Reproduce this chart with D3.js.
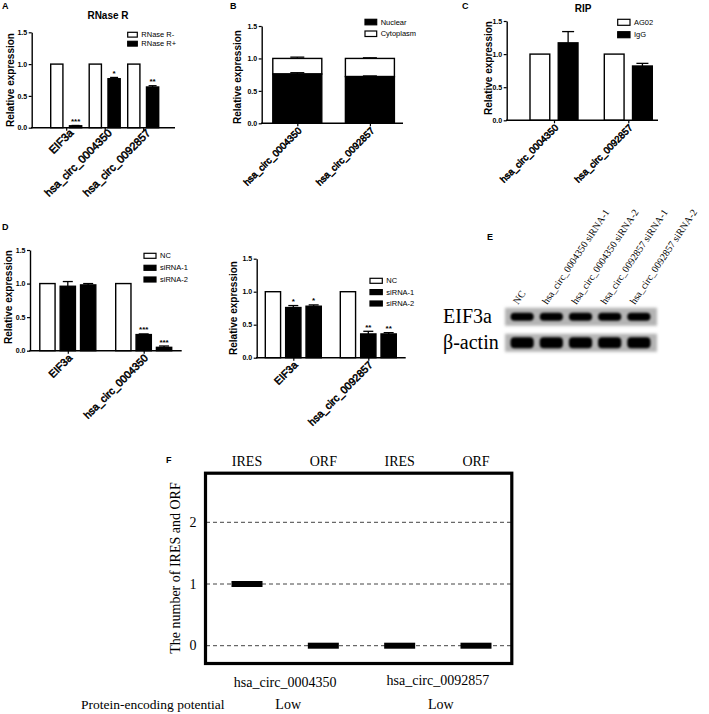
<!DOCTYPE html>
<html><head><meta charset="utf-8">
<script src="https://cdn.jsdelivr.net/npm/d3@7"></script>
<style>body{margin:0;background:#fff}</style>
</head><body>
<svg id="fig" width="709" height="714"></svg>
<script>
// ---------------- DATA ----------------
const yTicks = [0, 0.5, 1.0, 1.5];

// Panel A - RNase R
const aCategories = ["EIF3a", "hsa_circ_0004350", "hsa_circ_0092857"];
const aSeries = ["RNase R-", "RNase R+"];
const aMinus = [1, 1, 1];
const aMinusErr = [0, 0, 0];
const aPlus = [0.03, 0.77, 0.64];
const aPlusErr = [0.005, 0.02, 0.02];
const aStars = ["***", "*", "**"];

// Panel B - Nuclear / Cytoplasm
const bCategories = ["hsa_circ_0004350", "hsa_circ_0092857"];
const bSeries = ["Nuclear", "Cytoplasm"];
const bNuclear = [0.76, 0.72];
const bNuclearErr = [0.02, 0.01];
const bCytoplasm = [0.24, 0.28];
const bTotalErr = [0.02, 0.01];

// Panel C - RIP
const cCategories = ["hsa_circ_0004350", "hsa_circ_0092857"];
const cSeries = ["AG02", "IgG"];
const cAG02 = [1, 1];
const cAG02Err = [0, 0];
const cIgG = [1.17, 0.82];
const cIgGErr = [0.17, 0.04];

// Panel D - siRNA knockdown
const dSeries = ["NC", "siRNA-1", "siRNA-2"];
const d1Categories = ["EIF3a", "hsa_circ_0004350"];
const d1NC = [1, 1];
const d1Si1 = [0.96, 0.24];
const d1Si2 = [0.98, 0.05];
const d1Si1Err = [0.07, 0.01];
const d1Si2Err = [0.02, 0.02];
const d1Stars1 = ["", "***"];
const d1Stars2 = ["", "***"];
const d2Categories = ["EIF3a", "hsa_circ_0092857"];
const d2NC = [1, 1];
const d2Si1 = [0.76, 0.36];
const d2Si2 = [0.78, 0.36];
const d2Si1Err = [0.03, 0.04];
const d2Si2Err = [0.02, 0.02];
const d2Stars1 = ["*", "**"];
const d2Stars2 = ["*", "**"];

// Panel E - western blot
const eLanes = ["NC", "hsa_circ_0004350 siRNA-1", "hsa_circ_0004350 siRNA-2",
                "hsa_circ_0092857 siRNA-1", "hsa_circ_0092857 siRNA-2"];
const eRows = ["EIF3a", "β-actin"];
const eEIF3aBand = [1, 1, 1, 1, 1];
const eActinBand = [1, 1, 1, 1, 1];

// Panel F - IRES / ORF
const fColumns = ["IRES", "ORF", "IRES", "ORF"];
const fCircs = ["hsa_circ_0004350", "hsa_circ_0092857"];
const fCounts = [1, 0, 0, 0];
const fPotential = ["Low", "Low"];
const fTicks = [0, 1, 2];

// ---------------- DRAWING ----------------
const SANS = "'Liberation Sans', Arial, Helvetica, sans-serif";
const SERIF = "'Liberation Serif', 'Times New Roman', Times, serif";
const svg = d3.select("#fig");

function txt(g, x, y, s, o = {}) {
  const t = g.append("text").attr("x", x).attr("y", y).text(s)
    .attr("font-family", o.family || SANS)
    .attr("font-size", o.size || 8)
    .attr("font-weight", o.weight || "normal")
    .attr("text-anchor", o.anchor || "start")
    .attr("fill", "#000");
  if (o.rotate) t.attr("transform", `rotate(${o.rotate},${x},${y})`);
  if (o.baseline) t.attr("dominant-baseline", o.baseline);
  if (o.stroke) t.attr("stroke", "#000").attr("stroke-width", o.stroke);
  return t;
}

function drawAxes(g, x, y, ax0, ax1, labelSize, lab) {
  const y0 = y(0);
  const ya = g.append("g").attr("transform", `translate(${ax0},0)`)
    .call(d3.axisLeft(y).tickValues(yTicks).tickFormat(d3.format(".1f")).tickSize(3).tickSizeOuter(0));
  ya.select(".domain").attr("stroke-width", 1.4);
  ya.selectAll(".tick line").attr("stroke-width", 1.2);
  ya.selectAll(".tick text").attr("font-family", SANS).attr("font-weight", "bold")
    .attr("font-size", 7).attr("x", -4.5);
  g.append("line").attr("x1", ax0 - 0.7).attr("x2", ax1).attr("y1", y0).attr("y2", y0)
    .attr("stroke", "#000").attr("stroke-width", 1.4);
  const xa = g.append("g").attr("transform", `translate(0,${y0})`)
    .call(d3.axisBottom(x).tickSize(3).tickSizeOuter(0).tickFormat(""));
  xa.select(".domain").remove();
  xa.selectAll(".tick line").attr("stroke-width", 1.2);
  const dx = lab ? lab[0] : 5, dy = lab ? lab[1] : 8;
  // rotated category labels (stroked regular face = bold look)
  x.domain().forEach(c => {
    txt(g, x(c) + dx, y0 + dy, c, { size: labelSize, anchor: "end", rotate: -45, stroke: 0.55 });
  });
}

function errBar(g, cx, yTop, yErr, half) {
  if (Math.abs(yTop - yErr) < 0.01) return;
  g.append("line").attr("x1", cx).attr("x2", cx).attr("y1", yTop).attr("y2", yErr)
    .attr("stroke", "#000").attr("stroke-width", 1.3);
  g.append("line").attr("x1", cx - half).attr("x2", cx + half).attr("y1", yErr).attr("y2", yErr)
    .attr("stroke", "#000").attr("stroke-width", 1.3);
}

function legend(g, items, x, ys, w, h, size) {
  items.forEach((it, i) => {
    g.append("rect").attr("x", x).attr("y", ys[i]).attr("width", w).attr("height", h)
      .attr("fill", it.fill).attr("stroke", "#000").attr("stroke-width", 1.2);
    txt(g, x + w + 4, ys[i] + h / 2, it.label, { size: size, baseline: "central" });
  });
}

function groupedPanel(p) {
  const g = svg.append("g");
  const y = d3.scaleLinear().domain([0, 1.5]).range(p.yRange);
  const x = d3.scalePoint().domain(p.categories).range(p.xCenters);
  const sub = d3.scaleBand().domain(p.series).range([-p.half, p.half]).paddingInner(p.pad);
  const bw = sub.bandwidth();
  p.series.forEach((s, si) => {
    p.categories.forEach((c, ci) => {
      const v = p.values[si][ci], e = p.errors[si][ci];
      const cx = x(c) + sub(s) + bw / 2;
      g.append("rect").attr("x", cx - bw / 2).attr("y", y(v)).attr("width", bw)
        .attr("height", y(0) - y(v)).attr("fill", p.fills[si])
        .attr("stroke", "#000").attr("stroke-width", 1.4);
      errBar(g, cx, y(v), y(v + e), p.cap);
      const st = p.stars[si] ? p.stars[si][ci] : "";
      if (st) txt(g, cx, y(v + e) - 1.5, st, { size: 8, weight: "bold", anchor: "middle" });
    });
  });
  drawAxes(g, x, y, p.axis[0], p.axis[1], p.labelSize, p.lab);
  txt(g, p.yLabel[0], p.yLabel[1], "Relative expression",
    { size: 10, weight: "bold", anchor: "middle", rotate: -90, baseline: "central" });
  legend(g, p.series.map((s, i) => ({ label: s, fill: p.fills[i] })), p.leg.x, p.leg.ys, p.leg.w, p.leg.h, 7.5);
  return g;
}

// Panel A
const gA = groupedPanel({
  categories: aCategories, series: aSeries,
  values: [aMinus, aPlus], errors: [aMinusErr, aPlusErr], stars: [null, aStars],
  fills: ["#fff", "#000"],
  yRange: [127.7, 32.3], xCenters: [66.2, 143.2], half: 15.5, pad: 0.35, cap: 4,
  axis: [31.7, 175], labelSize: 11, yLabel: [10, 80], lab: [8, 6],
  leg: { x: 127.7, ys: [32.3, 41.3], w: 9.6, h: 4.8 }
});
txt(gA, 2, 9, "A", { size: 9, weight: "bold" });
txt(gA, 108, 19, "RNase R", { size: 10, weight: "bold", anchor: "middle" });

// Panel B (stacked)
(function () {
  const g = svg.append("g");
  const y = d3.scaleLinear().domain([0, 1.5]).range([123.3, 26]);
  const x = d3.scalePoint().domain(bCategories).range([297.3, 369.9]);
  const bw = 49;
  bCategories.forEach((c, i) => {
    const cx = x(c);
    const tot = bNuclear[i] + bCytoplasm[i];
    g.append("rect").attr("x", cx - bw / 2).attr("y", y(tot)).attr("width", bw)
      .attr("height", y(bNuclear[i]) - y(tot)).attr("fill", "#fff").attr("stroke", "#000").attr("stroke-width", 1.4);
    g.append("rect").attr("x", cx - bw / 2).attr("y", y(bNuclear[i])).attr("width", bw)
      .attr("height", y(0) - y(bNuclear[i])).attr("fill", "#000").attr("stroke", "#000").attr("stroke-width", 1.4);
    errBar(g, cx, y(bNuclear[i]), y(bNuclear[i] + bNuclearErr[i]), 7);
    errBar(g, cx, y(tot), y(tot + bTotalErr[i]), 7);
  });
  drawAxes(g, x, y, 261.7, 403, 9.5);
  txt(g, 237, 77, "Relative expression", { size: 10, weight: "bold", anchor: "middle", rotate: -90, baseline: "central" });
  legend(g, [{ label: bSeries[0], fill: "#000" }, { label: bSeries[1], fill: "#fff" }], 365, [19.3, 31], 11.7, 5.5, 7.5);
  txt(g, 230, 9, "B", { size: 9, weight: "bold" });
})();

// Panel C
const gC = groupedPanel({
  categories: cCategories, series: cSeries,
  values: [cAG02, cIgG], errors: [cAG02Err, cIgGErr], stars: [null, null],
  fills: ["#fff", "#000"],
  yRange: [120.3, 21], xCenters: [554, 628.3], half: 24, pad: 0.3, cap: 6,
  axis: [506.7, 658], labelSize: 9.5, yLabel: [488, 68],
  leg: { x: 617.7, ys: [19.3, 31.7], w: 12.3, h: 6 }
});
txt(gC, 462, 9, "C", { size: 9, weight: "bold" });
txt(gC, 583, 12, "RIP", { size: 10, weight: "bold", anchor: "middle" });

// Panel D left
const gD1 = groupedPanel({
  categories: d1Categories, series: dSeries,
  values: [d1NC, d1Si1, d1Si2], errors: [[0, 0], d1Si1Err, d1Si2Err], stars: [null, d1Stars1, d1Stars2],
  fills: ["#fff", "#000", "#000"],
  yRange: [350.7, 250], xCenters: [67.8, 143.7], half: 28, pad: 0.25, cap: 5,
  axis: [30, 181.7], labelSize: 10.5, yLabel: [8, 297],
  leg: { x: 144, ys: [253.3, 265.3, 277], w: 12, h: 5 }
});
txt(gD1, 2, 230, "D", { size: 9, weight: "bold" });

// Panel D right
groupedPanel({
  categories: d2Categories, series: dSeries,
  values: [d2NC, d2Si1, d2Si2], errors: [[0, 0], d2Si1Err, d2Si2Err], stars: [null, d2Stars1, d2Stars2],
  fills: ["#fff", "#000", "#000"],
  yRange: [357.7, 258.7], xCenters: [293.3, 368.3], half: 28, pad: 0.25, cap: 5,
  axis: [256.7, 405.7], labelSize: 10.5, yLabel: [233, 308],
  leg: { x: 370, ys: [278.3, 289.6, 301], w: 12.3, h: 5 }
});

// Panel E - blot
(function () {
  const g = svg.append("g");
  const defs = svg.append("defs");
  defs.append("filter").attr("id", "blurBg").attr("x", "-10%").attr("y", "-50%").attr("width", "120%").attr("height", "200%")
    .append("feGaussianBlur").attr("stdDeviation", 1.6);
  defs.append("filter").attr("id", "blurBand").attr("x", "-20%").attr("y", "-80%").attr("width", "140%").attr("height", "260%")
    .append("feGaussianBlur").attr("stdDeviation", 1.3);
  const lane = d3.scaleBand().domain(eLanes).range([510, 651]).paddingInner(0.17);
  const row = d3.scalePoint().domain(eRows).range([316.8, 342.8]);
  const bandH = { "EIF3a": 8, "β-actin": 11 };
  const levels = { "EIF3a": eEIF3aBand, "β-actin": eActinBand };
  eRows.forEach(r => {
    const cy = row(r);
    g.append("rect").attr("x", 505).attr("y", cy - 9).attr("width", 152).attr("height", 18)
      .attr("fill", "#b4b4b4").attr("filter", "url(#blurBg)");
    eLanes.forEach((l, i) => {
      const h = bandH[r];
      g.append("rect").attr("x", lane(l) + 0.5).attr("y", cy - h / 2).attr("width", lane.bandwidth() - 1)
        .attr("height", h).attr("rx", 4).attr("fill", "#050505").attr("opacity", levels[r][i])
        .attr("filter", "url(#blurBand)");
    });
    txt(g, 443, cy + 6.5, r, { family: SERIF, size: 20 });
  });
  eLanes.forEach(l => {
    txt(g, lane(l) + lane.bandwidth() / 2 - 4, 305, l, { family: SERIF, size: 10, rotate: -56 });
  });
  txt(g, 487, 240, "E", { size: 9, weight: "bold" });
})();

// Panel F
(function () {
  const g = svg.append("g");
  const x = d3.scalePoint().domain(d3.range(fColumns.length)).range([247, 476]);
  const y = d3.scaleLinear().domain([0, 2]).range([645.7, 522.3]);
  const bx0 = 204, bx1 = 513.3, by0 = 471.7, by1 = 665;
  fTicks.forEach(t => {
    g.append("line").attr("x1", bx0 + 2).attr("x2", bx1 - 2).attr("y1", y(t)).attr("y2", y(t))
      .attr("stroke", "#444").attr("stroke-width", 1).attr("stroke-dasharray", "4,3");
    txt(g, 193, y(t), String(t), { family: SERIF, size: 14, anchor: "middle", baseline: "central" });
  });
  g.append("rect").attr("x", bx0 + 1.5).attr("y", by0 + 1.5).attr("width", bx1 - bx0 - 3).attr("height", by1 - by0 - 3)
    .attr("fill", "none").attr("stroke", "#000").attr("stroke-width", 3.2);
  fCounts.forEach((v, i) => {
    g.append("rect").attr("x", x(i) - 15.5).attr("y", y(v) - 3).attr("width", 31).attr("height", 6).attr("fill", "#000");
    txt(g, x(i), 465.5, fColumns[i], { family: SERIF, size: 14, anchor: "middle" });
  });
  fCircs.forEach((c, k) => {
    const cx = (x(2 * k) + x(2 * k + 1)) / 2;
    txt(g, cx, k === 0 ? 686.5 : 684.5, c, { family: SERIF, size: 14, anchor: "middle" });
    txt(g, cx + 3, 709, fPotential[k], { family: SERIF, size: 14, anchor: "middle" });
  });
  txt(g, 152.7, 709, "Protein-encoding potential", { family: SERIF, size: 13.5, anchor: "middle" });
  txt(g, 175, 568, "The number of IRES and ORF", { family: SERIF, size: 14, anchor: "middle", rotate: -90, baseline: "central" });
  txt(g, 166, 463, "F", { size: 9, weight: "bold" });
})();
</script>
</body></html>
